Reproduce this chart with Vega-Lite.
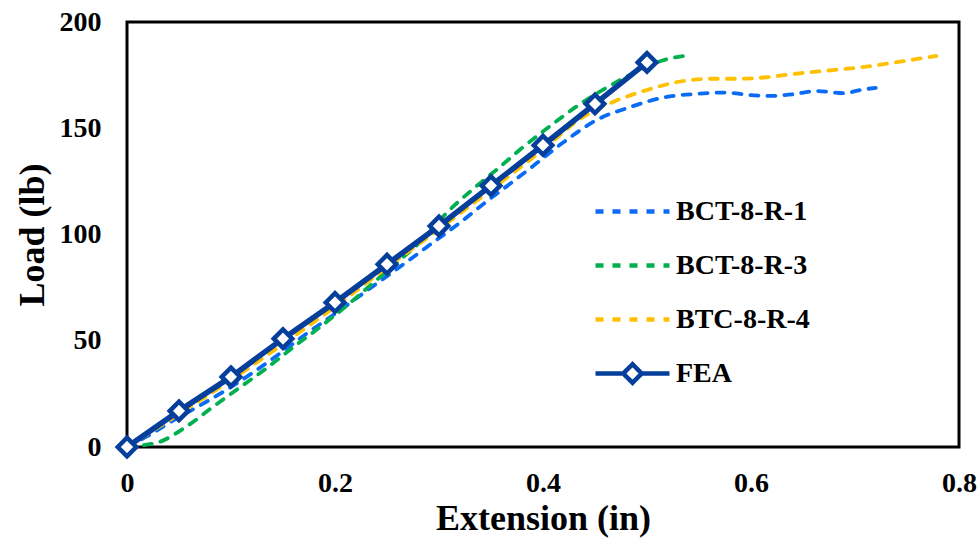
{
  "$schema": "https://vega.github.io/schema/vega-lite/v6.json",
  "width": 832,
  "height": 425,
  "autosize": "none",
  "padding": {"left": 127, "top": 22, "right": 19, "bottom": 97},
  "background": "white",
  "config": {
    "font": "Liberation Serif",
    "view": {"stroke": "black", "strokeWidth": 3},
    "axis": {
      "labelFont": "Liberation Serif",
      "labelFontSize": 28,
      "labelFontWeight": "bold",
      "labelColor": "black",
      "labelFlush": false,
      "titleFont": "Liberation Serif",
      "titleFontSize": 36,
      "titleFontWeight": "bold",
      "titleColor": "black",
      "ticks": false,
      "grid": false,
      "domain": false
    },
    "legend": {
      "labelFont": "Liberation Serif",
      "labelFontSize": 28,
      "labelFontWeight": "bold",
      "labelColor": "black",
      "labelLimit": 400
    }
  },
  "datasets": {
    "tests": [
      {"series": "BCT-8-R-1", "x": 0, "y": 0},
      {"series": "BCT-8-R-1", "x": 0.02, "y": 5.2},
      {"series": "BCT-8-R-1", "x": 0.045, "y": 12.7},
      {"series": "BCT-8-R-1", "x": 0.07, "y": 19.5},
      {"series": "BCT-8-R-1", "x": 0.096, "y": 27},
      {"series": "BCT-8-R-1", "x": 0.121, "y": 35},
      {"series": "BCT-8-R-1", "x": 0.147, "y": 44},
      {"series": "BCT-8-R-1", "x": 0.173, "y": 53.5},
      {"series": "BCT-8-R-1", "x": 0.198, "y": 62},
      {"series": "BCT-8-R-1", "x": 0.222, "y": 70.5},
      {"series": "BCT-8-R-1", "x": 0.246, "y": 79},
      {"series": "BCT-8-R-1", "x": 0.27, "y": 87.5},
      {"series": "BCT-8-R-1", "x": 0.295, "y": 96.5},
      {"series": "BCT-8-R-1", "x": 0.32, "y": 105.5},
      {"series": "BCT-8-R-1", "x": 0.343, "y": 114.5},
      {"series": "BCT-8-R-1", "x": 0.37, "y": 124.5},
      {"series": "BCT-8-R-1", "x": 0.394, "y": 133.6},
      {"series": "BCT-8-R-1", "x": 0.42, "y": 143.5},
      {"series": "BCT-8-R-1", "x": 0.452, "y": 154},
      {"series": "BCT-8-R-1", "x": 0.484, "y": 160},
      {"series": "BCT-8-R-1", "x": 0.516, "y": 164.5},
      {"series": "BCT-8-R-1", "x": 0.548, "y": 166.2},
      {"series": "BCT-8-R-1", "x": 0.575, "y": 166.8},
      {"series": "BCT-8-R-1", "x": 0.6, "y": 165.6},
      {"series": "BCT-8-R-1", "x": 0.62, "y": 165.2},
      {"series": "BCT-8-R-1", "x": 0.64, "y": 166},
      {"series": "BCT-8-R-1", "x": 0.663, "y": 167.5},
      {"series": "BCT-8-R-1", "x": 0.69, "y": 166.5},
      {"series": "BCT-8-R-1", "x": 0.705, "y": 168},
      {"series": "BCT-8-R-1", "x": 0.72, "y": 169},
      {"series": "BCT-8-R-3", "x": 0, "y": 0},
      {"series": "BCT-8-R-3", "x": 0.0125, "y": 0.6},
      {"series": "BCT-8-R-3", "x": 0.032, "y": 2.5},
      {"series": "BCT-8-R-3", "x": 0.057, "y": 9.6},
      {"series": "BCT-8-R-3", "x": 0.083, "y": 19},
      {"series": "BCT-8-R-3", "x": 0.109, "y": 28.2},
      {"series": "BCT-8-R-3", "x": 0.134, "y": 37},
      {"series": "BCT-8-R-3", "x": 0.16, "y": 47},
      {"series": "BCT-8-R-3", "x": 0.186, "y": 56.6},
      {"series": "BCT-8-R-3", "x": 0.21, "y": 66},
      {"series": "BCT-8-R-3", "x": 0.235, "y": 76.5},
      {"series": "BCT-8-R-3", "x": 0.26, "y": 87},
      {"series": "BCT-8-R-3", "x": 0.285, "y": 98},
      {"series": "BCT-8-R-3", "x": 0.307, "y": 110},
      {"series": "BCT-8-R-3", "x": 0.333, "y": 121.5},
      {"series": "BCT-8-R-3", "x": 0.359, "y": 132},
      {"series": "BCT-8-R-3", "x": 0.378, "y": 140},
      {"series": "BCT-8-R-3", "x": 0.404, "y": 150},
      {"series": "BCT-8-R-3", "x": 0.436, "y": 161.5},
      {"series": "BCT-8-R-3", "x": 0.468, "y": 171},
      {"series": "BCT-8-R-3", "x": 0.493, "y": 177.4},
      {"series": "BCT-8-R-3", "x": 0.519, "y": 182.5},
      {"series": "BCT-8-R-3", "x": 0.535, "y": 184},
      {"series": "BTC-8-R-4", "x": 0, "y": 0},
      {"series": "BTC-8-R-4", "x": 0.05, "y": 15.5},
      {"series": "BTC-8-R-4", "x": 0.1, "y": 31.5},
      {"series": "BTC-8-R-4", "x": 0.15, "y": 48.5},
      {"series": "BTC-8-R-4", "x": 0.2, "y": 66},
      {"series": "BTC-8-R-4", "x": 0.25, "y": 84.5},
      {"series": "BTC-8-R-4", "x": 0.3, "y": 102.5},
      {"series": "BTC-8-R-4", "x": 0.35, "y": 121},
      {"series": "BTC-8-R-4", "x": 0.4, "y": 140},
      {"series": "BTC-8-R-4", "x": 0.436, "y": 154.5},
      {"series": "BTC-8-R-4", "x": 0.468, "y": 162.5},
      {"series": "BTC-8-R-4", "x": 0.5, "y": 168},
      {"series": "BTC-8-R-4", "x": 0.532, "y": 172},
      {"series": "BTC-8-R-4", "x": 0.564, "y": 173.3},
      {"series": "BTC-8-R-4", "x": 0.589, "y": 173.3},
      {"series": "BTC-8-R-4", "x": 0.615, "y": 174},
      {"series": "BTC-8-R-4", "x": 0.64, "y": 175.5},
      {"series": "BTC-8-R-4", "x": 0.679, "y": 177.4},
      {"series": "BTC-8-R-4", "x": 0.711, "y": 179},
      {"series": "BTC-8-R-4", "x": 0.743, "y": 181.3},
      {"series": "BTC-8-R-4", "x": 0.778, "y": 184}
    ],
    "fea": [
      {"series": "FEA", "x": 0, "y": 0},
      {"series": "FEA", "x": 0.05, "y": 17},
      {"series": "FEA", "x": 0.1, "y": 33},
      {"series": "FEA", "x": 0.15, "y": 51},
      {"series": "FEA", "x": 0.2, "y": 68},
      {"series": "FEA", "x": 0.25, "y": 86},
      {"series": "FEA", "x": 0.3, "y": 104},
      {"series": "FEA", "x": 0.35, "y": 123},
      {"series": "FEA", "x": 0.4, "y": 142},
      {"series": "FEA", "x": 0.45, "y": 161.5},
      {"series": "FEA", "x": 0.5, "y": 181}
    ],
    "none": []
  },
  "encoding": {
    "x": {
      "field": "x", "type": "quantitative",
      "scale": {"domain": [0, 0.8], "nice": false, "zero": false},
      "axis": {"values": [0, 0.2, 0.4, 0.6, 0.8], "format": ".1~f", "labelPadding": 22, "titlePadding": 4, "title": "Extension (in)"}
    },
    "y": {
      "field": "y", "type": "quantitative",
      "scale": {"domain": [0, 200], "nice": false},
      "axis": {"values": [0, 50, 100, 150, 200], "labelPadding": 26, "titlePadding": 8, "title": "Load (lb)"}
    }
  },
  "layer": [
    {
      "data": {"name": "tests"},
      "mark": {"type": "line", "strokeWidth": 3.8, "strokeCap": "round", "interpolate": "monotone"},
      "encoding": {
        "color": {
          "field": "series", "type": "nominal",
          "scale": {"domain": ["BCT-8-R-1", "BCT-8-R-3", "BTC-8-R-4", "FEA"], "range": ["#0A6CF5", "#00B050", "#FFC000", "#063E9B"]},
          "legend": {
            "title": null, "orient": "none", "legendX": 466, "legendY": 150,
            "padding": 0, "labelOffset": 4, "symbolSize": 5476, "symbolStrokeWidth": 4.5,
            "symbolOpacity": 1, "rowPadding": -21,
            "labelFont": "Liberation Serif", "labelFontWeight": "bold", "labelFontSize": 28
          }
        },
        "strokeDash": {
          "field": "series", "type": "nominal",
          "scale": {"domain": ["BCT-8-R-1", "BCT-8-R-3", "BTC-8-R-4", "FEA"], "range": [[8, 9], [8, 9], [8, 9], [1, 0]]},
          "legend": {"title": null}
        }
      }
    },
    {
      "data": {"name": "fea"},
      "mark": {"type": "line", "strokeWidth": 5.5, "color": "#063E9B"},
      "encoding": {}
    },
    {
      "data": {"name": "fea"},
      "mark": {"type": "point", "shape": "diamond", "size": 340, "filled": false, "fill": "white", "fillOpacity": 1, "strokeWidth": 4.5, "color": "#063E9B", "opacity": 1},
      "encoding": {}
    },
    {
      "data": {"name": "none"},
      "mark": {"type": "point", "filled": false, "opacity": 1},
      "encoding": {
        "color": {"field": "series", "type": "nominal"},
        "strokeDash": {"field": "series", "type": "nominal"},
        "shape": {
          "field": "series", "type": "nominal",
          "scale": {"domain": ["BCT-8-R-1", "BCT-8-R-3", "BTC-8-R-4", "FEA"], "range": ["M-1,0L1,0", "M-1,0L1,0", "M-1,0L1,0", "M-1,0L-0.25,0M0.25,0L1,0M-0.25,0L0,-0.25L0.25,0L0,0.25Z"]},
          "legend": {"title": null}
        }
      }
    }
  ]
}
